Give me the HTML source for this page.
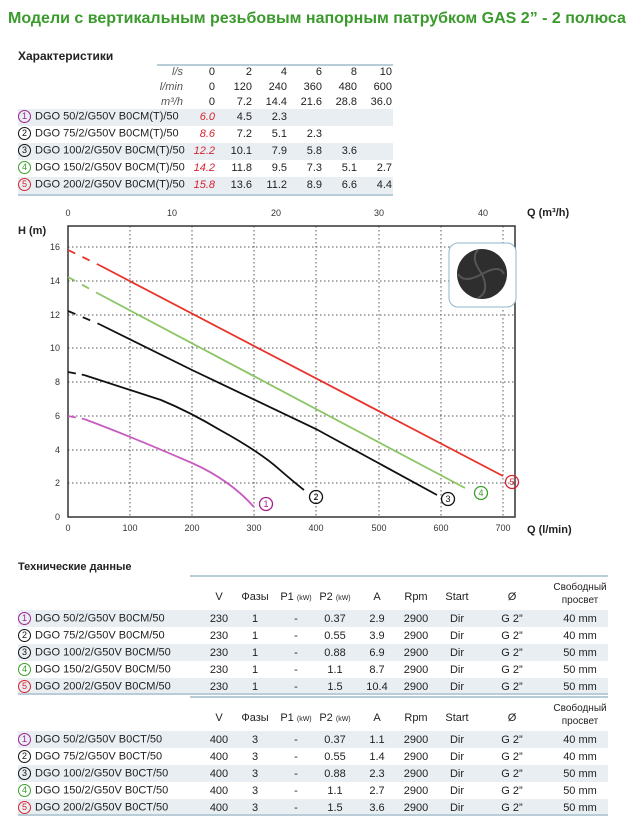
<!DOCTYPE html>
<html><head><meta charset="utf-8"><style>
body{margin:0;width:640px;height:829px;background:#fff;position:relative;font-family:"Liberation Sans","DejaVu Sans",sans-serif;color:#222;overflow:hidden}
.a{position:absolute;white-space:nowrap}
.t{font-size:11px}
.r{text-align:right}
.c{text-align:center}
.sh{position:absolute;background:#e8eef2}
.ln{position:absolute;height:2px;background:#b9cdd8}
.n{display:inline-block;width:11px;height:11px;border:1.3px solid;border-radius:50%;font-size:9px;line-height:11px;text-align:center;margin-right:4px;vertical-align:middle}
.red{color:#d8232f;font-style:italic}
</style></head><body>
<div class="a" style="left:8px;top:10px;font-size:16px;font-weight:bold;color:#3a9a2c">Модели с вертикальным резьбовым напорным патрубком GAS 2” - 2 полюса</div>
<div class="a" style="left:18px;top:49px;font-size:12px;font-weight:bold">Характеристики</div>

<div class="ln" style="left:157px;top:64px;width:236px"></div>
<div class="sh" style="left:18px;top:109px;width:375px;height:17px"></div>
<div class="sh" style="left:18px;top:143px;width:375px;height:17px"></div>
<div class="sh" style="left:18px;top:177px;width:375px;height:17px"></div>
<div class="ln" style="left:18px;top:194px;width:375px"></div>
<div id="tt"></div>

<svg class="a" style="left:0;top:200px" width="640" height="350" viewBox="0 200 640 350" font-family="Liberation Sans, sans-serif">
<g stroke="#555" stroke-width="1" stroke-dasharray="1.5,2.5">
<line x1="68" y1="247" x2="515" y2="247"/><line x1="68" y1="281" x2="515" y2="281"/><line x1="68" y1="315" x2="515" y2="315"/><line x1="68" y1="348" x2="515" y2="348"/><line x1="68" y1="382" x2="515" y2="382"/><line x1="68" y1="416" x2="515" y2="416"/><line x1="68" y1="450" x2="515" y2="450"/><line x1="68" y1="483" x2="515" y2="483"/>
<line x1="130" y1="226" x2="130" y2="517"/><line x1="192" y1="226" x2="192" y2="517"/><line x1="254" y1="226" x2="254" y2="517"/><line x1="316" y1="226" x2="316" y2="517"/><line x1="379" y1="226" x2="379" y2="517"/><line x1="441" y1="226" x2="441" y2="517"/><line x1="503" y1="226" x2="503" y2="517"/>
</g>
<rect x="68" y="226" width="447" height="291" fill="none" stroke="#333" stroke-width="1.5"/>
<g font-size="9" fill="#333" text-anchor="middle">
<text x="68" y="531">0</text><text x="130" y="531">100</text><text x="192" y="531">200</text><text x="254" y="531">300</text><text x="316" y="531">400</text><text x="379" y="531">500</text><text x="441" y="531">600</text><text x="503" y="531">700</text>
<text x="68" y="216">0</text><text x="172" y="216">10</text><text x="276" y="216">20</text><text x="379" y="216">30</text><text x="483" y="216">40</text>
</g>
<g font-size="9" fill="#333" text-anchor="end">
<text x="60" y="520">0</text><text x="60" y="486">2</text><text x="60" y="453">4</text><text x="60" y="419">6</text><text x="60" y="385">8</text><text x="60" y="351">10</text><text x="60" y="318">12</text><text x="60" y="284">14</text><text x="60" y="250">16</text>
</g>
<text x="18" y="234" font-size="11" font-weight="bold" fill="#222">H (m)</text>
<text x="527" y="216" font-size="11" font-weight="bold" fill="#222">Q (m³/h)</text>
<text x="527" y="533" font-size="11" font-weight="bold" fill="#222">Q (l/min)</text>
<rect x="449" y="243" width="67" height="64" rx="9" fill="#fff" stroke="#8fb6cc"/>
<circle cx="482" cy="274" r="25" fill="#2e2e2e"/>
<g fill="none" stroke="#555" stroke-width="2"><path d="M482,274 Q470,258 478,250"/><path d="M482,274 Q500,264 504,274"/><path d="M482,274 Q490,292 478,298"/><path d="M482,274 Q464,284 458,274"/></g>
<g fill="none" stroke-width="1.8">
<path d="M68,416 L84,419" stroke="#c85bbf" stroke-dasharray="8,6"/>
<path d="M84,419 Q130,436 192,463 Q230,480 254,507" stroke="#c85bbf"/>
<path d="M68,372 L84,375" stroke="#111" stroke-dasharray="8,6"/>
<path d="M84,375 Q130,390 161,400 Q190,412 220,430 Q260,452 280,470 Q295,483 304,490" stroke="#111"/>
<path d="M68,311 L99,324" stroke="#111" stroke-dasharray="8,8"/>
<path d="M99,324 L192,370 L316,429 L437,495" stroke="#111"/>
<path d="M68,277 L99,294" stroke="#8cc564" stroke-dasharray="8,8"/>
<path d="M99,294 L465,488" stroke="#8cc564"/>
<path d="M68,250 L99,265" stroke="#e8332a" stroke-dasharray="8,8"/>
<path d="M99,265 L503,476" stroke="#e8332a"/>
</g>
<g font-size="9" text-anchor="middle" fill="none" stroke-width="1.3">
<circle cx="266" cy="504" r="6.5" stroke="#a0238f"/><text x="266" y="507" fill="#a0238f" stroke="none">1</text>
<circle cx="316" cy="497" r="6.5" stroke="#111"/><text x="316" y="500" fill="#111" stroke="none">2</text>
<circle cx="448" cy="499" r="6.5" stroke="#111"/><text x="448" y="502" fill="#111" stroke="none">3</text>
<circle cx="481" cy="493" r="6.5" stroke="#3aa02a"/><text x="481" y="496" fill="#3aa02a" stroke="none">4</text>
<circle cx="512" cy="482" r="6.5" stroke="#d8232f"/><text x="512" y="485" fill="#d8232f" stroke="none">5</text>
</g>
</svg>

<div class="a" style="left:18px;top:561px;font-size:11px;font-weight:bold">Технические данные</div>
<div id="bt"></div>

<script>
var cols=['#a0238f','#111','#111','#3aa02a','#d8232f'];
var h='';
var xs=[215,252,287,322,357,392];
var hdr=[['l/s',0,2,4,6,8,10],['l/min',0,120,240,360,480,600],['m³/h',0,7.2,14.4,21.6,28.8,'36.0']];
hdr.forEach(function(r,i){var y=66+i*15;
h+='<div class="a t r" style="right:'+(640-183)+'px;top:'+y+'px;font-style:italic;color:#555">'+r[0]+'</div>';
for(var j=1;j<7;j++)h+='<div class="a t r" style="right:'+(640-xs[j-1])+'px;top:'+y+'px">'+r[j]+'</div>';});
var names=['DGO 50/2/G50V B0CM(T)/50','DGO 75/2/G50V B0CM(T)/50','DGO 100/2/G50V B0CM(T)/50','DGO 150/2/G50V B0CM(T)/50','DGO 200/2/G50V B0CM(T)/50'];
var d=[['6.0',4.5,2.3],['8.6',7.2,5.1,2.3],['12.2',10.1,7.9,5.8,3.6],['14.2',11.8,9.5,7.3,5.1,2.7],['15.8',13.6,11.2,8.9,6.6,4.4]];
d.forEach(function(r,i){var y=111+i*17;
h+='<div class="a t" style="left:18px;top:'+(y-1)+'px"><span class="n" style="color:'+cols[i]+';border-color:'+cols[i]+'">'+(i+1)+'</span>'+names[i]+'</div>';
r.forEach(function(v,j){h+='<div class="a t r'+(j==0?' red':'')+'" style="right:'+(640-xs[j])+'px;top:'+y+'px">'+v+'</div>';});});
document.getElementById('tt').innerHTML=h;

var b='';
var cx=[219,255,296,335,377,416,457,512,580];
function tbl(top,names,v,ph,A,P2){
b+='<div class="ln" style="left:190px;top:'+top+'px;width:418px"></div>';
var hy=top+16;
var H=['V','Фазы','P1 <small style="font-size:7px">(kW)</small>','P2 <small style="font-size:7px">(kW)</small>','A','Rpm','Start','Ø'];
H.forEach(function(t,j){b+='<div class="a t c" style="left:'+(cx[j]-30)+'px;width:60px;top:'+hy+'px">'+t+'</div>';});
b+='<div class="a c" style="left:540px;width:80px;top:'+(top+6)+'px;font-size:10px;line-height:13px">Свободный<br>просвет</div>';
for(var i=0;i<5;i++){var y=top+38+i*17;
if(i%2==0)b+='<div class="sh" style="left:18px;top:'+(y-3)+'px;width:590px;height:17px"></div>';
b+='<div class="a t" style="left:18px;top:'+(y-1)+'px"><span class="n" style="color:'+cols[i]+';border-color:'+cols[i]+'">'+(i+1)+'</span>'+names[i]+'</div>';
var row=[v,ph,'-',P2[i],A[i],'2900','Dir','G 2”',(i<2?'40 mm':'50 mm')];
row.forEach(function(t,j){b+='<div class="a t c" style="left:'+(cx[j]-30)+'px;width:60px;top:'+y+'px">'+t+'</div>';});}
b+='<div class="ln" style="left:18px;top:'+(top+118)+'px;width:590px"></div>';}
var n1=['DGO 50/2/G50V B0CM/50','DGO 75/2/G50V B0CM/50','DGO 100/2/G50V B0CM/50','DGO 150/2/G50V B0CM/50','DGO 200/2/G50V B0CM/50'];
var n2=n1.map(function(s){return s.replace('B0CM','B0CT');});
var P2=['0.37','0.55','0.88','1.1','1.5'];
tbl(575,n1,'230','1',['2.9','3.9','6.9','8.7','10.4'],P2);
tbl(696,n2,'400','3',['1.1','1.4','2.3','2.7','3.6'],P2);
document.getElementById('bt').innerHTML=b;
</script>
</body></html>
